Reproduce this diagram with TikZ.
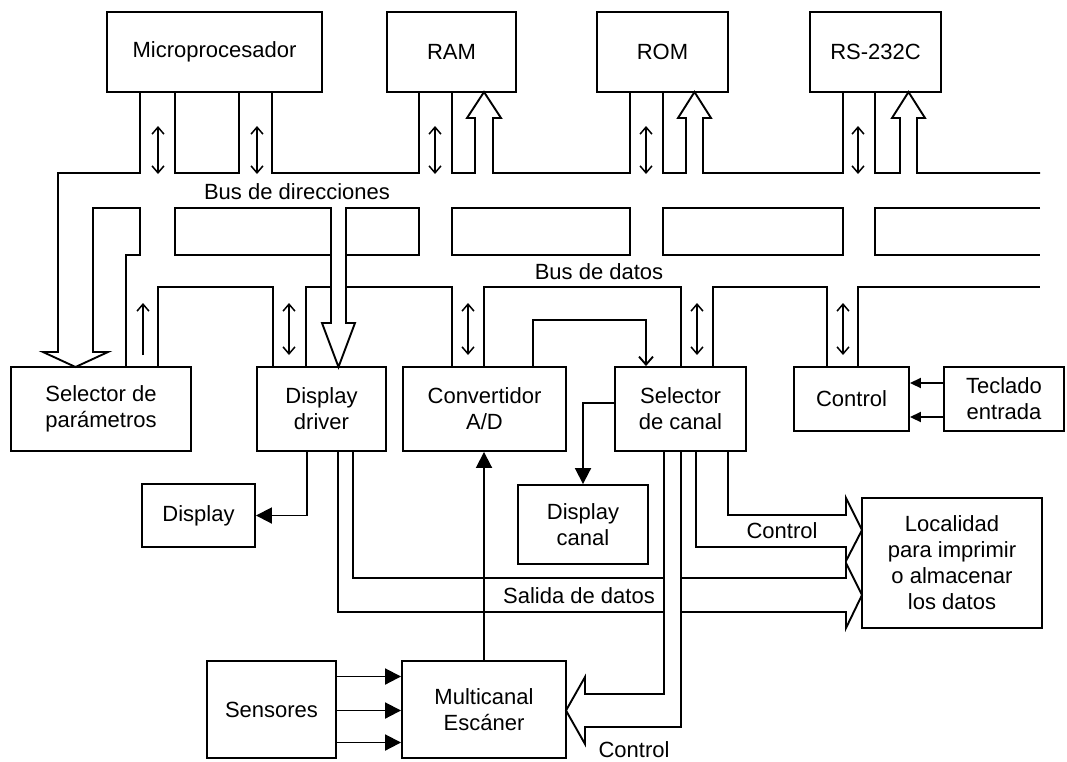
\documentclass[tikz,border=0pt]{standalone}
\usepackage{fontspec}
\setmainfont{Liberation Sans}
\usetikzlibrary{arrows.meta}
\begin{document}
\begin{tikzpicture}[x=1pt,y=-1pt,line width=1.9pt,every node/.style={font=\fontsize{22}{26}\selectfont,align=center,inner sep=0pt},caja/.style 2 args={draw,minimum width=#1pt,minimum height=#2pt},doble/.style={line width=1.5pt,{Straight Barb[length=7pt,width=12pt]}-{Straight Barb[length=7pt,width=12pt]}},sube/.style={line width=1.5pt,-{Straight Barb[length=7pt,width=12pt]}},flecha/.style={-{Triangle[length=16pt,width=16pt]}},fina/.style={-{Triangle[length=11pt,width=10pt]}},abierta/.style={-{Straight Barb[length=8pt,width=14pt]}}]
\useasboundingbox (0,0) rectangle (1067,761);
% bloques
\node[caja={215}{80}] (mp) at (214.5,52) {Microprocesador};
\node[caja={129}{80}] (ram) at (451.5,52) {RAM};
\node[caja={131}{80}] (rom) at (662.5,52) {ROM};
\node[caja={131}{80}] (rs) at (875.5,52) {RS-232C};
\node[caja={180}{84}] (sel) at (101,409) {Selector de\\parámetros};
\node[caja={129}{84}] (dd) at (321.5,409) {Display\\driver};
\node[caja={163}{84}] (ad) at (484.5,409) {Convertidor\\A/D};
\node[caja={131}{84}] (sc) at (680.5,409) {Selector\\de canal};
\node[caja={115}{64}] (ctl) at (851.5,399) {Control};
\node[caja={120}{64}] (tec) at (1004,399) {Teclado\\entrada};
\node[caja={113}{63}] (dsp) at (198.5,515.5) {Display};
\node[caja={130}{79}] (dc) at (583,524.5) {Display\\canal};
\node[caja={180}{130}] (loc) at (952,563) {Localidad\\para imprimir\\o almacenar\\los datos};
\node[caja={129}{97}] (sen) at (271.5,709.5) {Sensores};
\node[caja={164}{97}] (mux) at (484,709.5) {Multicanal\\Escáner};
% bus de direcciones
\draw (140,92)--(140,173)--(58,173)--(58,352)--(43,352)--(75.5,367)--(108,352)--(93,352)--(93,208)--(140,208)--(140,255)--(126,255)--(126,367);
\draw (175,92)--(175,173)--(239,173)--(239,92);
\draw (272,92)--(272,173)--(419,173)--(419,92);
\draw (452,92)--(452,173)--(475,173)--(475,118)--(467,118)--(484,92)--(501,118)--(493,118)--(493,173)--(630,173)--(630,92);
\draw (663,92)--(663,173)--(686,173)--(686,118)--(678,118)--(694.5,92)--(711,118)--(703,118)--(703,173)--(843,173)--(843,92);
\draw (875,92)--(875,173)--(900,173)--(900,118)--(892,118)--(908.5,92)--(925,118)--(917,118)--(917,173)--(1040,173);
% bus de datos
\draw (331,255)--(175,255)--(175,208)--(331,208)--(331,323)--(322,323)--(338.5,367)--(355,323)--(346,323)--(346,208)--(419,208)--(419,255)--(346,255);
\draw (452,208) rectangle (630,255);
\draw (663,208) rectangle (843,255);
\draw (1040,208)--(875,208)--(875,255)--(1040,255);
\draw (158,367)--(158,287)--(273,287)--(273,367);
\draw (306,367)--(306,287)--(331,287);
\draw (346,287)--(452,287)--(452,367);
\draw (484,367)--(484,287)--(681,287)--(681,367);
\draw (713,367)--(713,287)--(827,287)--(827,367);
\draw (858,367)--(858,287)--(1040,287);
\foreach \x in {158,257,435,646,858} \draw[doble] (\x,126)--(\x,174);
\foreach \x in {289,468,697,843} \draw[doble] (\x,303)--(\x,355);
\draw[sube] (143,355)--(143,303);
% salidas inferiores
\draw (728,451)--(728,515)--(846,515)--(846,498)--(862,530)--(846,561)--(846,547)--(696,547)--(696,451);
\draw (664,578)--(353,578)--(353,451);
\draw (338,451)--(338,612)--(664,612);
\draw (681,578)--(846,578)--(846,563)--(862,595)--(846,628)--(846,612)--(681,612);
\draw (664,451)--(664,694)--(585,694)--(585,677)--(566,710.5)--(585,744)--(585,727)--(681,727)--(681,451);
\draw[fina] ([yshift=16pt]tec.west)--([yshift=16pt]ctl.east);
\draw[fina] ([yshift=-18pt]tec.west)--([yshift=-18pt]ctl.east);
\draw[flecha] ([xshift=-14.5pt]dd.south) |- (dsp.east);
\draw[flecha] ([yshift=6pt]sc.west) -| (dc.north);
\draw[flecha] (mux.north)--(mux.north |- ad.south);
\draw[abierta] ([xshift=48.5pt]ad.north)--++(0,-46) -| ([xshift=-34.5pt]sc.north);
\foreach \d in {33,-1,-33} \draw[flecha] ([yshift=\d pt]sen.east)--([yshift=\d pt]mux.west);
% rotulos
\node (bdir) at (297,192) {Bus de direcciones};
\node (bdat) at (599,272) {Bus de datos};
\node (lctl) at (782,531) {Control};
\node (lsal) at (579,596) {Salida de datos};
\node (lctlb) at (634,750) {Control};
\end{tikzpicture}
\end{document}
